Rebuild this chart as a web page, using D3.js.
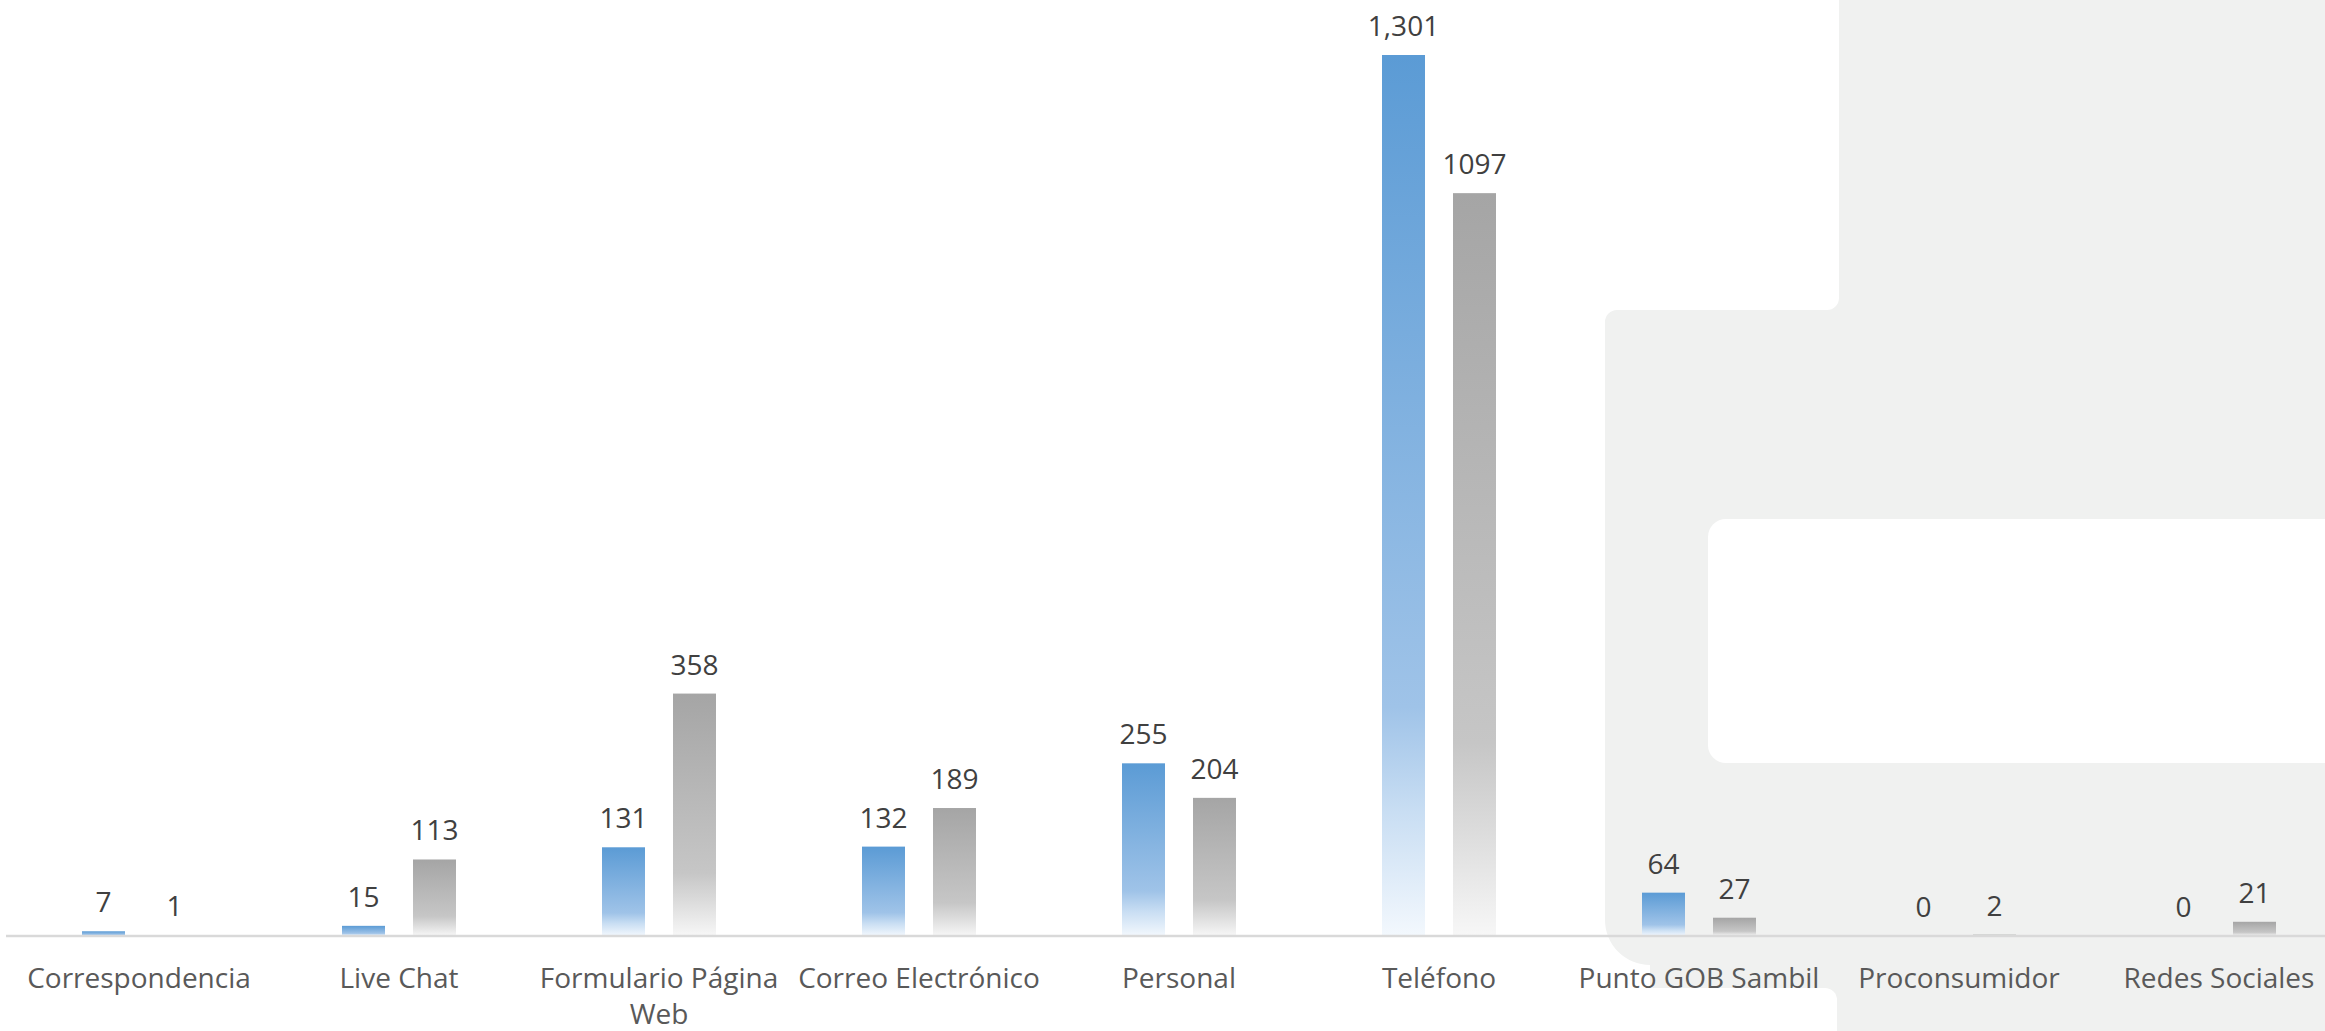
<!DOCTYPE html>
<html>
<head>
<meta charset="utf-8">
<script src="https://cdn.jsdelivr.net/npm/d3@7"></script>
<style>
  html, body { margin: 0; padding: 0; background: #ffffff; }
  svg { display: block; }
</style>
</head>
<body>
<svg id="chart" width="2325" height="1031"></svg>
<script>
// ---- data ----
const categories = ["Correspondencia", "Live Chat", "Formulario Página Web", "Correo Electrónico",
                    "Personal", "Teléfono", "Punto GOB Sambil", "Proconsumidor", "Redes Sociales"];
const seriesKeys = ["serieAzul", "serieGris"];
const valuesBlue = [7, 15, 131, 132, 255, 1301, 64, 0, 0];
const valuesGray = [1, 113, 358, 189, 204, 1097, 27, 2, 21];

const W = 2325, H = 1031;
const svg = d3.select("#chart");
const FONT = "'Open Sans', 'Noto Sans', sans-serif";

// ---- background decoration ----
const bg = svg.append("g");
bg.append("path")
  .attr("d", "M1605,322 A12,12 0 0 1 1617,310 H1827 A12,12 0 0 0 1839,298 V0 H2325 V1031 H1650 V965 A45,45 0 0 1 1605,920 Z")
  .attr("fill", "#f0f1f0");
bg.append("rect").attr("x", 1708).attr("y", 519).attr("width", 700).attr("height", 244)
  .attr("rx", 18).attr("fill", "#ffffff");
bg.append("path")
  .attr("d", "M1590,1031 V988 H1825 A12,12 0 0 1 1837,1000 V1031 Z")
  .attr("fill", "#ffffff");

// ---- gradients ----
const defs = svg.append("defs");
function grad(id, stops) {
  const g = defs.append("linearGradient").attr("id", id)
    .attr("x1", 0).attr("y1", 0).attr("x2", 0).attr("y2", 1);
  stops.forEach(s => g.append("stop").attr("offset", s[0]).attr("stop-color", s[1]));
}
grad("gBlue", [[0, "#5b9bd5"], [0.74, "#9fc3e8"], [0.86, "#c9def3"], [1, "#f3f8fd"]]);
grad("gGray", [[0, "#a5a5a5"], [0.74, "#c6c6c6"], [0.86, "#dcdcdc"], [1, "#f7f7f7"]]);

// ---- scales ----
const baseY = 936;
const y = d3.scaleLinear().domain([0, 1400]).range([baseY, baseY - 1400 * (881 / 1301)]);
const x0 = d3.scaleBand().domain(categories).range([9, 2349])
  .paddingInner(146 / 260).paddingOuter(73 / 260);
const x1 = d3.scaleBand().domain(seriesKeys).range([0, x0.bandwidth()])
  .paddingInner(28 / 71).paddingOuter(0);

const rows = categories.map((c, i) => ({
  cat: c,
  items: [
    { key: "serieAzul", v: valuesBlue[i], fill: "url(#gBlue)", label: d3.format(",")(valuesBlue[i]) },
    { key: "serieGris", v: valuesGray[i], fill: "url(#gGray)", label: d3.format("d")(valuesGray[i]) }
  ]
}));

const groups = svg.append("g").selectAll("g").data(rows).join("g")
  .attr("transform", d => `translate(${x0(d.cat)},0)`);

groups.selectAll("rect").data(d => d.items).join("rect")
  .attr("x", d => x1(d.key))
  .attr("width", x1.bandwidth())
  .attr("y", d => y(d.v))
  .attr("height", d => Math.max(0, baseY - y(d.v)))
  .attr("fill", d => d.fill);

// axis line
const xAxis = d3.axisBottom(x0).tickSize(0).tickFormat("");
const axG = svg.append("g").attr("transform", `translate(0,${baseY})`).call(xAxis);
axG.select(".domain").attr("d", `M6,0H${W}`).attr("stroke", "#d9d9d9").attr("stroke-width", 2.5);

// value labels
groups.selectAll("text.val").data(d => d.items).join("text")
  .attr("class", "val")
  .attr("x", d => x1(d.key) + x1.bandwidth() / 2)
  .attr("y", d => y(d.v) - 19)
  .attr("text-anchor", "middle")
  .attr("font-family", FONT)
  .attr("font-size", 28)
  .attr("fill", "#404040")
  .text(d => d.label);

// category labels (wrapped)
const catG = svg.append("g");
categories.forEach(c => {
  const cx = x0(c) + x0.bandwidth() / 2;
  const t = catG.append("text")
    .attr("x", cx).attr("y", 988)
    .attr("text-anchor", "middle")
    .attr("font-family", FONT)
    .attr("font-size", 28)
    .attr("fill", "#595959");
  const words = c.split(" ");
  let line = [];
  let tspan = t.append("tspan").attr("x", cx).attr("dy", 0);
  words.forEach(w => {
    line.push(w);
    tspan.text(line.join(" "));
    if (tspan.node().getComputedTextLength() > 258 && line.length > 1) {
      line.pop();
      tspan.text(line.join(" "));
      line = [w];
      tspan = t.append("tspan").attr("x", cx).attr("dy", 36).text(w);
    }
  });
});
</script>
</body>
</html>
